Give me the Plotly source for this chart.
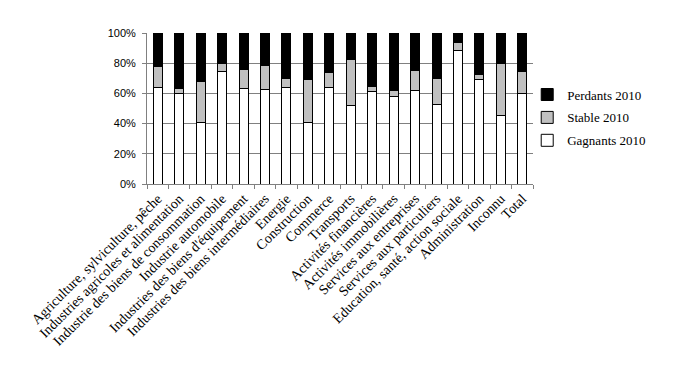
import plotly.graph_objects as go

categories = [
    "Agriculture, sylviculture, pêche",
    "Industries agricoles et alimentation",
    "Industrie des biens de consommation",
    "Industrie automobile",
    "Industries des biens d'équipement",
    "Industries des biens intermédiaires",
    "Energie",
    "Construction",
    "Commerce",
    "Transports",
    "Activités financières",
    "Activités immobilières",
    "Services aux entreprises",
    "Services aux particuliers",
    "Education, santé, action sociale",
    "Administration",
    "Inconnu",
    "Total",
]
gagnants = [64.2, 60.2, 40.9, 74.8, 63.5, 62.8, 64.2, 40.9, 64.2, 52.2,
            61.1, 57.7, 62.2, 52.9, 88.7, 69.5, 45.6, 60.2]
gagnants_plus_stable = [78.1, 63.5, 68.1, 80.1, 76.1, 78.8, 70.1, 69.5, 74.1, 82.5,
                        64.8, 62.2, 75.2, 70.1, 94.0, 72.8, 80.1, 74.8]
stable = [round(s - g, 1) for s, g in zip(gagnants_plus_stable, gagnants)]
perdants = [round(100 - s, 1) for s in gagnants_plus_stable]

series = [
    ("Gagnants 2010", gagnants, "white", "c"),
    ("Stable 2010", stable, "#c0c0c0", "b"),
    ("Perdants 2010", perdants, "black", "a"),
]

fig = go.Figure()
for name, vals, col, rank in series:
    fig.add_trace(go.Bar(
        x=categories, y=[v / 100 for v in vals], name=name, legendgroup=rank,
        legendrank={"a": 1, "b": 2, "c": 3}[rank],
        marker=dict(color=col, line=dict(color="black", width=1)),
    ))

serif = "Liberation Serif, Times New Roman, serif"
fig.update_layout(
    width=673, height=374,
    barmode="stack", bargap=0.58,
    paper_bgcolor="white", plot_bgcolor="white",
    margin=dict(l=139, r=148, t=25, b=198, autoexpand=False),
    font=dict(family=serif, size=12, color="black"),
    legend=dict(x=0.985, xanchor="left", y=0.44, yanchor="middle",
                traceorder="grouped", tracegroupgap=3,
                bgcolor="rgba(0,0,0,0)",
                font=dict(family=serif, size=13), itemwidth=30),
    xaxis=dict(tickangle=-45, tickson="boundaries", ticks="outside", ticklen=4,
               tickcolor="#808080", showline=True, linecolor="#808080",
               showgrid=False, tickfont=dict(family=serif, size=14)),
    yaxis=dict(range=[0, 1], tickformat=".0%", dtick=0.2, ticks="outside", ticklen=4,
               tickcolor="#808080", showline=True, linecolor="#808080",
               showgrid=True, gridcolor="#808080", gridwidth=1, zeroline=False,
               ticklabelstandoff=4,
               tickfont=dict(family="Liberation Sans, Arial, sans-serif", size=11)),
)

fig.write_html("out.html")
